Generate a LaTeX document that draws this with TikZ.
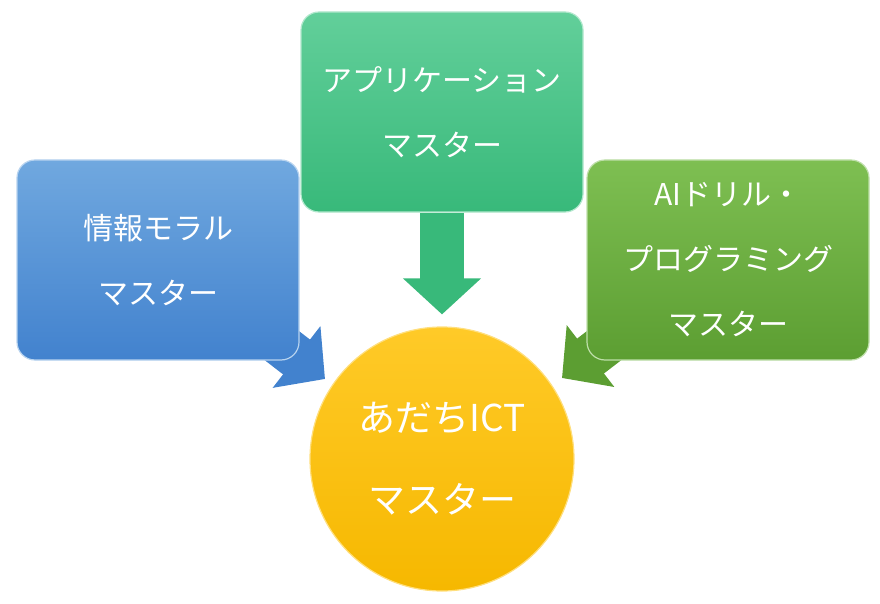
\documentclass[tikz,border=0pt]{standalone}
\usepackage{fontspec}
\setmainfont{Noto Sans CJK JP}
\usetikzlibrary{arrows.meta, calc, backgrounds}

\definecolor{moraltop}{RGB}{112,168,223}
\definecolor{moralbot}{RGB}{66,130,206}
\definecolor{apptop}{RGB}{98,207,154}
\definecolor{appbot}{RGB}{56,185,122}
\definecolor{aitop}{RGB}{126,191,82}
\definecolor{aibot}{RGB}{92,158,50}
\definecolor{ictop}{RGB}{255,202,40}
\definecolor{icbot}{RGB}{246,184,0}

\begin{document}
\begin{tikzpicture}[x=1pt, y=-1pt,
		box/.style={rectangle, rounded corners=18pt, minimum width=282pt, minimum height=200pt, text=white, align=center, font=\fontsize{30}{65}\selectfont, line width=1.2pt},
		master/.style={circle, minimum size=264pt, text=white, align=center, font=\fontsize{37}{82}\selectfont, draw=ictop!60!white, line width=1.2pt},
		fat/.style={line width=44pt, -{Triangle[width=76pt, length=36pt]}}]
				\useasboundingbox (0,0) rectangle (880,604);

				% Nodes
				\node[box, top color=moraltop, bottom color=moralbot, draw=moraltop!50!white] (moral) at (158,260) {情報モラル\\マスター};
				\node[box, top color=apptop, bottom color=appbot, draw=apptop!50!white] (app) at (442,112) {アプリケーション\\マスター};
				\node[box, top color=aitop, bottom color=aibot, draw=aitop!50!white] (ai) at (728,260) {AIドリル・\\プログラミング\\マスター};
				\node[master, top color=ictop, bottom color=icbot] (ict) at (442,459) {あだちICT\\マスター};

				% Edges
				\begin{scope}[on background layer]
				\draw[fat, moralbot] ($(moral.south east)+(-32,-26)$) -- ($(ict)+(-117,-80)$);
				\draw[fat, appbot] (app.south) -- ($(ict.north)+(0,-12)$);
				\draw[fat, aibot] ($(ai.south west)+(32,-26)$) -- ($(ict)+(120,-81)$);
				\end{scope}
			\end{tikzpicture}
\end{document}
